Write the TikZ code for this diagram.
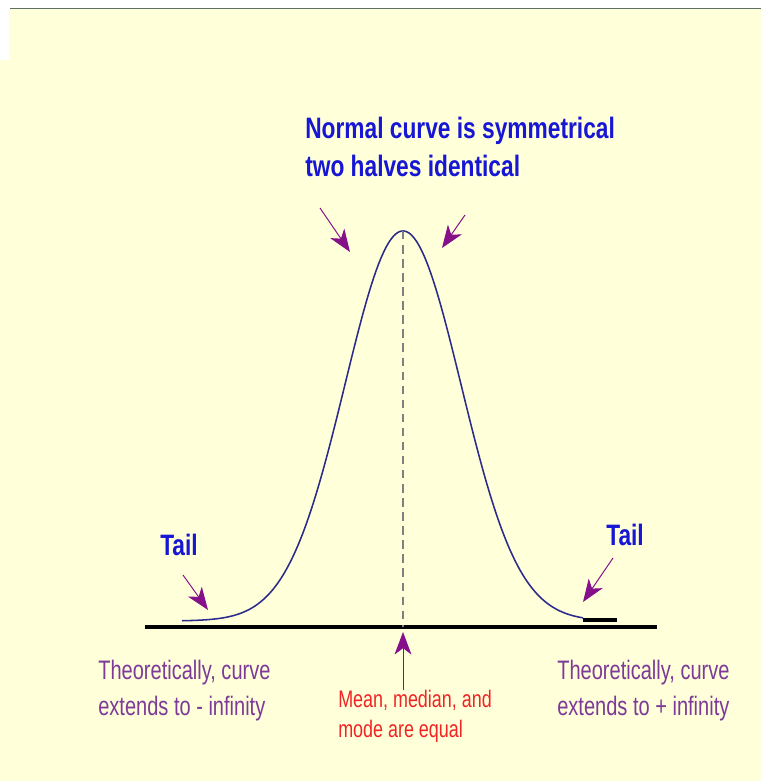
\documentclass[tikz,border=0pt]{standalone}
\usepackage{fontspec}
\setmainfont{Liberation Sans}
\newfontfamily\headfont[FakeStretch=0.77]{Liberation Sans}
\newfontfamily\notefont[FakeStretch=0.75]{Liberation Sans}
\usepackage{tikz}
\usetikzlibrary{arrows.meta}
\definecolor{paper}{HTML}{FFFFDA}
\definecolor{headblue}{HTML}{1616D4}
\definecolor{curveblue}{HTML}{2B2B8C}
\definecolor{plum}{HTML}{85108A}
\definecolor{notepurple}{HTML}{7D3A98}
\definecolor{notered}{HTML}{F02424}
\definecolor{framegray}{HTML}{5F6F66}
\tikzset{
  headtext/.style={
    font=\headfont\bfseries\fontsize{21}{27}\selectfont,
    color=headblue, inner sep=0pt, align=left
  },
  notetext/.style={
    font=\notefont\fontsize{19}{25.6}\selectfont,
    color=#1, inner sep=0pt, align=left
  },
  notetext/.default=notepurple,
  meantext/.style={
    font=\notefont\fontsize{17}{21.3}\selectfont,
    color=notered, inner sep=0pt, align=left
  },
  pointer/.style={
    -{Stealth[length=16pt, width=12pt, inset=4.5pt]}, line width=0.7pt, color=plum
  },
}

\begin{document}
\begin{tikzpicture}[x=0.025cm, y=-0.025cm]
  \useasboundingbox (0,0) rectangle (761,781);
  % paper and top rule
  \fill[paper] (9,9) rectangle (761,781);
  \fill[paper] (0,60) rectangle (9,781);
  \draw[framegray, line width=1pt] (10,8.5) -- (761,8.5);

  % key points
  \coordinate (peak) at (403,231);
  \coordinate (foot) at (403,627);
  \coordinate (axisL) at (145,627);
  \coordinate (axisR) at (657,627);
  \coordinate (tailRa) at (583,620);
  \coordinate (tailRb) at (617,620);

  % axis, curve and mean line
  \draw[line width=2.8pt] (axisL) -- (axisR);
  \draw[curveblue, line width=1.1pt]
    plot[domain=182:583, samples=160] (\x, {621-390*exp(-((\x-403)/58)^2/2)});
  \draw[line width=2.3pt] (tailRa) -- (tailRb);
  \draw[gray, dash pattern=on 6pt off 4pt, line width=0.8pt] (peak) -- (foot);

  % labels
  \node[headtext, anchor=north west] (title) at (305,117)
    {Normal curve is symmetrical\\two halves identical};
  \node[headtext, anchor=base west] (tailleft) at (160,555) {Tail};
  \node[headtext, anchor=base west] (tailright) at (606,545) {Tail};
  \node[notetext, anchor=north west] (minusinf) at (98,660)
    {Theoretically, curve\\extends to - infinity};
  \node[notetext, anchor=north west] (plusinf) at (557,660)
    {Theoretically, curve\\extends to + infinity};
  \node[meantext, anchor=north west] (mean) at (338,690)
    {Mean, median, and\\mode are equal};

  % arrow ends
  \coordinate (symL) at (320,208);
  \coordinate (symLtip) at (350,252);
  \coordinate (symR) at (465,215);
  \coordinate (symRtip) at (442,248);
  \coordinate (tailLfrom) at (183,575);
  \coordinate (tailLtip) at (208,610);
  \coordinate (tailRfrom) at (613,558);
  \coordinate (tailRtip) at (583,602);
  \coordinate (meantip) at (403,632);

  % pointers
  \draw[pointer] (symL) -- (symLtip);
  \draw[pointer] (symR) -- (symRtip);
  \draw[pointer] (tailLfrom) -- (tailLtip);
  \draw[pointer] (tailRfrom) -- (tailRtip);
  \draw[pointer] (mean.north -| foot) -- (meantip);
\end{tikzpicture}
\end{document}
